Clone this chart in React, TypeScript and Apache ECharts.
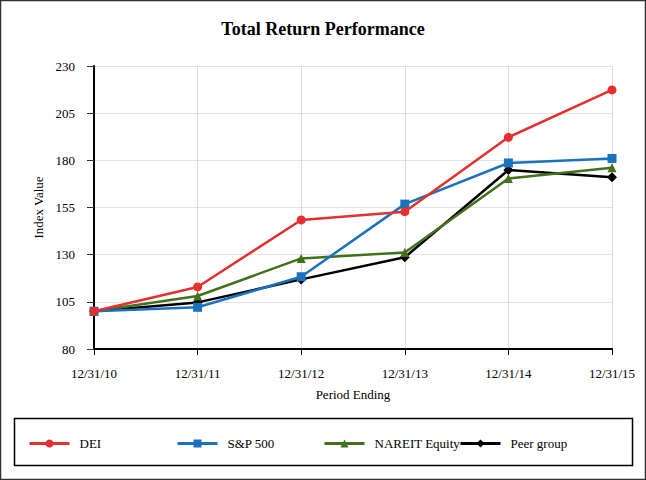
import React, { useEffect, useRef } from "react";
import * as echarts from "echarts";

const categories = ["12/31/10", "12/31/11", "12/31/12", "12/31/13", "12/31/14", "12/31/15"];
const dei = [100, 112.9, 148.4, 152.8, 192.2, 217.3];
const sp500 = [100, 102.1, 118.3, 156.8, 178.6, 181];
const nareit = [100, 108.1, 128, 131.2, 170.4, 176.1];
const peer = [100, 104.7, 116.9, 128.6, 174.9, 171];
const seriesNames = ["DEI", "S&P 500", "NAREIT Equity", "Peer group"];

const FONT = "Liberation Serif";

export default function App() {
  const ref = useRef<HTMLDivElement>(null);
  useEffect(() => {
    const chart = echarts.init(ref.current!, null, { renderer: "svg" });
    const colors = ["#E5302F", "#1A72BE", "#41711A", "#000000"];
    const symbols = ["circle", "rect", "triangle", "diamond"];
    const symbolSizes = [9, 9, 9, 10];
    const datas = [dei, sp500, nareit, peer];
    const legendLefts = [28, 176, 323, 459];
    chart.setOption({
      animation: false,
      textStyle: { fontFamily: FONT },
      title: {
        text: "Total Return Performance",
        left: "center",
        top: 15,
        textStyle: { fontFamily: FONT, fontSize: 18, fontWeight: "bold", color: "#000" },
      },
      grid: { left: 94, right: 34, top: 66, bottom: 131, containLabel: false },
      legend: seriesNames.map((n, i) => ({
        data: [n],
        left: legendLefts[i],
        top: 437,
        padding: 0,
        itemWidth: 40,
        itemHeight: 10,
        itemStyle: { borderWidth: 0 },
        lineStyle: { width: 3 },
        textStyle: { fontFamily: FONT, fontSize: 13, color: "#000", padding: [0, 0, 0, 5] },
      })),
      xAxis: {
        type: "category",
        data: categories,
        boundaryGap: false,
        name: "Period Ending",
        nameLocation: "middle",
        nameGap: 39,
        nameTextStyle: { fontFamily: FONT, fontSize: 13, color: "#000" },
        axisLine: { lineStyle: { color: "#000", width: 2 } },
        axisTick: { show: true, length: 6, lineStyle: { color: "#000", width: 1 } },
        axisLabel: { fontFamily: FONT, fontSize: 13, color: "#000", margin: 18 },
        splitLine: { show: true, lineStyle: { color: "#d9d9d9", width: 1 } },
      },
      yAxis: {
        type: "value",
        min: 80,
        max: 230,
        interval: 25,
        name: "Index Value",
        nameLocation: "middle",
        nameGap: 48,
        nameTextStyle: { fontFamily: FONT, fontSize: 13, color: "#000" },
        axisLine: { show: true, lineStyle: { color: "#000", width: 2 } },
        axisTick: { show: true, length: 7, lineStyle: { color: "#333", width: 1 } },
        axisLabel: { fontFamily: FONT, fontSize: 13, color: "#000", margin: 19 },
        splitLine: { show: true, lineStyle: { color: "#e3e3e3", width: 1 } },
      },
      graphic: [
        {
          type: "rect",
          shape: { x: 0.5, y: 0.5, width: 645, height: 479 },
          style: { fill: "none", stroke: "#333", lineWidth: 1.5 },
          silent: true,
        },
        {
          type: "rect",
          shape: { x: 14.5, y: 418.5, width: 618, height: 47 },
          style: { fill: "none", stroke: "#000", lineWidth: 1.5 },
          silent: true,
        },
      ],
      series: seriesNames.map((n, i) => ({
        name: n,
        type: "line",
        data: datas[i],
        symbol: symbols[i],
        symbolSize: symbolSizes[i],
        showAllSymbol: true,
        lineStyle: { color: colors[i], width: 2.5 },
        itemStyle: { color: colors[i] },
        z: 10 - i,
      })),
    });
    return () => chart.dispose();
  }, []);
  return (
    <div
      ref={ref}
      style={{ position: "fixed", left: 0, top: 0, width: 646, height: 480, background: "#fff" }}
    />
  );
}
